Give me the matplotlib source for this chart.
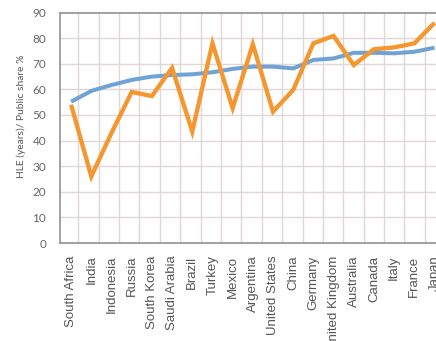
import numpy as np
import matplotlib
matplotlib.use("Agg")
import matplotlib.pyplot as plt

# paises (eje x)
countries = ["South Africa", "India", "Indonesia", "Russia", "South Korea",
             "Saudi Arabia", "Brazil", "Turkey", "Mexico", "Argentina",
             "United States", "China", "Germany", "United Kingdom",
             "Australia", "Canada", "Italy", "France", "Japan"]

# HLE (anios) - linea azul
hle = [55.2, 59.4, 61.7, 63.7, 65.0, 65.6, 65.9, 66.7, 68.0, 68.9,
       68.9, 68.2, 71.5, 72.1, 74.3, 74.3, 74.1, 74.7, 76.3]

# participacion publica % - linea naranja
public_share = [54, 26, 43, 59, 57.4, 68.4, 43.5, 78, 52.7, 77.6,
                51.3, 59.8, 78, 80.9, 69.5, 75.7, 76.4, 78, 86]

yticks = [0, 10, 20, 30, 40, 50, 60, 70, 80, 90]

fig = plt.figure(figsize=(4.36, 3.41), dpi=100)
ax = fig.add_axes([60 / 436, 98 / 341, 400 / 436, 230.4 / 341])

x = np.arange(len(countries))

# cuadricula tipo papel
for gx in np.arange(0.35, 19.5, 1.01):
    ax.axvline(gx, color="#e0d6d6", lw=1.0, zorder=0)
for gy in yticks[1:-1]:
    ax.axhline(gy, color="#e0d6d6", lw=1.0, zorder=0)

ax.plot(x, hle, color="#6fa3d6", lw=2.9, solid_capstyle="butt", zorder=2)
ax.plot(x, public_share, color="#f5962f", lw=3.1, solid_joinstyle="miter",
        solid_capstyle="butt", zorder=3)

ax.set_xlim(-0.55, 19.26)
ax.set_ylim(0, 90)
ax.set_yticks(yticks)
ax.set_yticklabels([str(v) for v in yticks], family="Lato", fontsize=8.5,
                   color="#666666")
ax.set_xticks(x)
ax.set_xticklabels(countries, rotation=90, family="Liberation Sans",
                   fontsize=9.5, color="#555555")
ax.tick_params(axis="both", length=0)
ax.tick_params(axis="y", pad=10)
ax.tick_params(axis="x", pad=9)

ax.set_ylabel("HLE (years)/ Public share %", family="Lato", fontsize=7.4,
              color="#555555")
ax.yaxis.set_label_coords(-0.085, 0.55)

for s in ["left", "top", "bottom"]:
    ax.spines[s].set_color("#9a9a9a")
    ax.spines[s].set_linewidth(1.3)
ax.spines["right"].set_visible(False)

fig.savefig("out.png", dpi=100)
